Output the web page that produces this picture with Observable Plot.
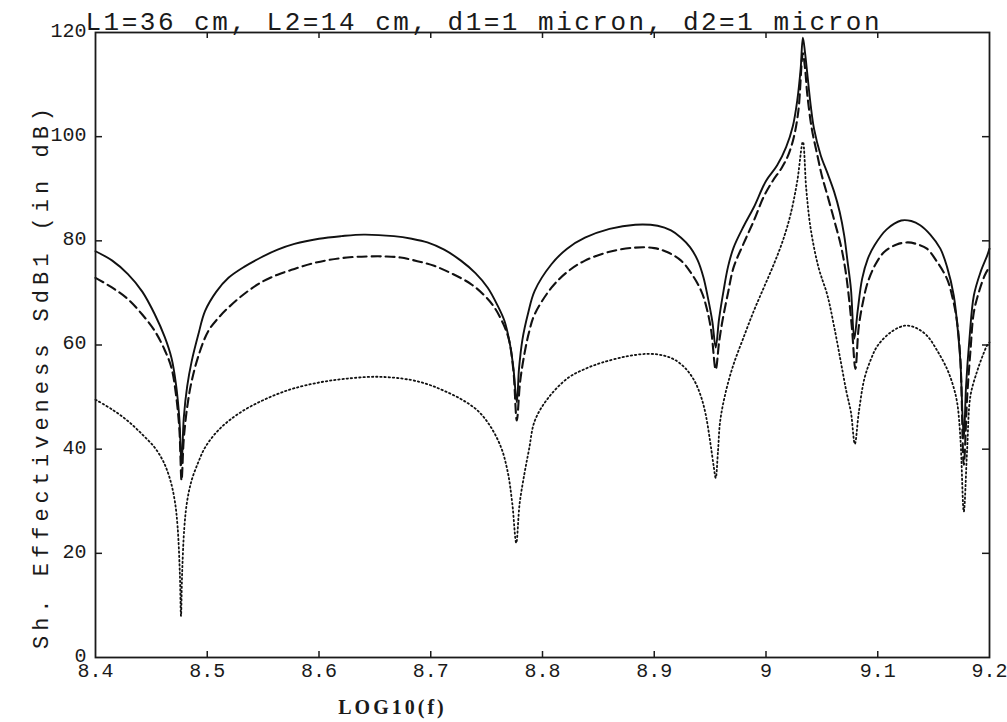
<!DOCTYPE html>
<html>
<head>
<meta charset="utf-8">
<script src="https://cdn.jsdelivr.net/npm/d3@7"></script>
<script src="https://cdn.jsdelivr.net/npm/@observablehq/plot@0.6"></script>
<style>
  html, body { margin: 0; padding: 0; background: #fff; }
  #chart svg { display: block; }
</style>
</head>
<body>
<div id="chart"></div>
<script>
const titleText = "L1=36 cm, L2=14 cm, d1=1 micron, d2=1 micron";
const xLabel = "LOG10(f)";
const yLabel = "Sh. Effectiveness SdB1 (in dB)";
const xTicks = [8.4, 8.5, 8.6, 8.7, 8.8, 8.9, 9.0, 9.1, 9.2];
const yTicks = [0, 20, 40, 60, 80, 100, 120];
const xInnerTicks = [8.5, 8.6, 8.7, 8.8, 8.9, 9.0, 9.1];
const yInnerTicks = [20, 40, 60, 80, 100];

// Solid curve
const solidLogF = [8.400,8.415,8.429,8.442,8.453,8.462,8.468,8.472,8.475,8.477,8.479,8.482,8.486,8.492,8.498,8.508,8.519,8.533,8.548,8.563,8.578,8.600,8.620,8.640,8.667,8.683,8.697,8.712,8.727,8.740,8.751,8.760,8.766,8.771,8.774,8.777,8.779,8.782,8.787,8.793,8.808,8.822,8.838,8.860,8.883,8.903,8.915,8.924,8.932,8.939,8.944,8.948,8.952,8.955,8.958,8.962,8.966,8.971,8.980,8.989,9.000,9.010,9.018,9.024,9.028,9.031,9.033,9.035,9.037,9.040,9.043,9.049,9.055,9.061,9.066,9.070,9.073,9.076,9.079,9.082,9.086,9.091,9.097,9.108,9.121,9.130,9.138,9.147,9.156,9.162,9.168,9.172,9.174,9.177,9.179,9.182,9.186,9.192,9.198,9.200];
const solidDB   = [78.0,76.2,73.6,70.2,65.9,61.5,57.5,52.5,46.0,37.0,46.0,52.0,56.8,62.0,66.5,70.2,72.9,75.0,76.8,78.3,79.4,80.4,80.9,81.2,80.9,80.4,79.7,78.3,76.2,73.8,71.0,67.5,64.6,60.0,55.5,49.0,55.5,61.0,66.0,70.4,75.5,78.5,80.6,82.3,83.1,82.9,82.0,80.6,78.8,76.2,73.0,69.1,64.5,59.5,65.0,70.4,75.0,78.7,82.8,86.4,91.5,94.5,98.0,102.0,107.0,113.0,119.0,116.0,112.0,106.0,101.5,96.4,93.0,89.4,85.5,81.0,76.0,70.8,61.2,66.5,72.7,76.5,79.1,82.2,83.9,83.8,83.0,81.2,78.5,75.0,69.5,62.0,56.7,42.0,52.0,61.0,69.5,74.0,77.2,78.5];

// Dashed curve
const dashedLogF = [8.400,8.415,8.429,8.442,8.453,8.462,8.468,8.472,8.475,8.477,8.479,8.482,8.486,8.493,8.501,8.510,8.519,8.533,8.548,8.563,8.578,8.593,8.608,8.625,8.644,8.660,8.673,8.688,8.703,8.720,8.736,8.748,8.757,8.765,8.770,8.774,8.777,8.780,8.784,8.788,8.793,8.808,8.822,8.838,8.860,8.883,8.900,8.912,8.924,8.933,8.942,8.947,8.951,8.955,8.958,8.961,8.966,8.971,8.980,8.989,8.998,9.006,9.014,9.020,9.025,9.029,9.033,9.035,9.037,9.041,9.046,9.050,9.055,9.061,9.067,9.071,9.074,9.077,9.080,9.083,9.087,9.091,9.098,9.106,9.117,9.127,9.136,9.144,9.153,9.162,9.167,9.171,9.174,9.177,9.180,9.183,9.186,9.191,9.196,9.200];
const dashedDB   = [72.9,71.0,68.8,65.8,62.7,59.0,55.6,50.5,44.0,34.0,42.0,48.0,53.0,58.5,62.7,65.2,67.2,69.8,72.0,73.5,74.6,75.6,76.3,76.8,77.0,77.0,76.8,76.1,75.2,73.6,71.7,69.5,67.2,64.0,61.0,55.0,45.5,53.0,58.5,62.5,65.9,71.0,74.0,76.2,77.9,78.7,78.6,77.8,76.2,73.8,70.4,67.0,62.7,55.3,60.5,64.6,70.0,74.9,79.5,83.8,88.5,91.5,94.0,96.5,100.0,105.0,116.0,113.0,108.0,101.5,96.4,92.5,88.7,84.0,79.1,74.5,69.5,63.0,55.4,63.5,68.5,72.0,75.5,77.9,79.3,79.7,79.3,78.5,76.0,72.7,69.0,64.4,57.0,37.0,50.0,59.0,66.3,70.5,73.5,75.0];

// Dotted curve
const dottedLogF = [8.400,8.415,8.429,8.442,8.453,8.461,8.467,8.471,8.4735,8.4755,8.4765,8.4775,8.4795,8.482,8.486,8.492,8.498,8.508,8.519,8.533,8.548,8.563,8.578,8.600,8.623,8.653,8.682,8.698,8.712,8.728,8.742,8.753,8.763,8.769,8.773,8.7765,8.7795,8.784,8.788,8.793,8.805,8.823,8.838,8.853,8.875,8.894,8.908,8.918,8.928,8.936,8.942,8.946,8.950,8.953,8.955,8.957,8.959,8.964,8.971,8.980,8.989,8.998,9.007,9.015,9.022,9.028,9.033,9.036,9.040,9.047,9.055,9.061,9.067,9.072,9.076,9.0795,9.083,9.088,9.094,9.100,9.112,9.124,9.134,9.144,9.153,9.162,9.167,9.171,9.174,9.177,9.180,9.183,9.189,9.194,9.198,9.200];
const dottedDB   = [49.5,47.6,45.4,42.8,40.3,37.5,34.0,30.0,25.0,16.0,8.0,16.0,25.0,30.0,34.0,37.5,40.3,43.2,45.4,47.5,49.2,50.6,51.7,52.8,53.5,53.9,53.3,52.4,51.2,49.5,47.4,44.5,40.3,35.5,29.5,22.0,29.5,35.5,40.0,45.4,49.8,53.7,55.4,56.6,57.8,58.3,58.0,57.2,55.5,53.1,50.0,46.7,41.5,37.0,34.5,39.5,45.4,51.0,56.3,61.5,66.5,71.0,75.5,80.0,85.1,91.5,99.0,90.0,82.3,74.9,69.5,63.5,56.7,51.0,47.1,41.0,47.0,53.5,57.3,59.9,62.5,63.7,63.3,61.8,59.0,55.4,52.5,49.0,42.0,28.0,40.0,50.3,55.0,58.0,60.0,60.5];

const toRows = (xs, ys) => xs.map((x, i) => ({x, y: ys[i]}));
const solid = toRows(solidLogF, solidDB);
const dashed = toRows(dashedLogF, dashedDB);
const dotted = toRows(dottedLogF, dottedDB);

const W = 1007, H = 722;
const mL = 95, mR = 18, mT = 32, mB = 65;
const plotW = W - mL - mR, plotH = H - mT - mB;
const mono = "'Liberation Mono', 'DejaVu Sans Mono', monospace";
const serif = "'Liberation Serif', 'DejaVu Serif', serif";
const ink = "#1a1a1a";

const chart = Plot.plot({
  width: W,
  height: H,
  marginLeft: mL,
  marginRight: mR,
  marginTop: mT,
  marginBottom: mB,
  style: {background: "#fff", color: ink, fontFamily: mono},
  x: {domain: [8.4, 9.2], axis: null},
  y: {domain: [0, 120], axis: null},
  marks: [
    Plot.line(dotted, {x: "x", y: "y", stroke: "#111", strokeWidth: 1.8, strokeDasharray: "1.4,2.8", curve: "catmull-rom"}),
    Plot.line(dashed, {x: "x", y: "y", stroke: "#111", strokeWidth: 2.1, strokeDasharray: "9,5", curve: "catmull-rom"}),
    Plot.line(solid, {x: "x", y: "y", stroke: "#111", strokeWidth: 1.9, curve: "catmull-rom"}),
    // inward ticks
    Plot.tickX(xInnerTicks, {x: d => d, insetTop: plotH - 6, stroke: ink, strokeWidth: 1.5}),
    Plot.tickX(xInnerTicks, {x: d => d, insetBottom: plotH - 6, stroke: ink, strokeWidth: 1.5}),
    Plot.tickY(yInnerTicks, {y: d => d, insetRight: plotW - 7, stroke: ink, strokeWidth: 1.5}),
    Plot.tickY(yInnerTicks, {y: d => d, insetLeft: plotW - 7, stroke: ink, strokeWidth: 1.5}),
    Plot.frame({stroke: ink, strokeWidth: 1.8}),
    Plot.text(xTicks, {x: d => d, frameAnchor: "bottom", lineAnchor: "top", dy: 5, text: d => d3.format("")(d), fontSize: 20, fontFamily: mono, fill: ink}),
    Plot.text(yTicks, {y: d => d, frameAnchor: "left", textAnchor: "end", lineAnchor: "middle", dx: -9, dy: -2, text: d => String(d), fontSize: 20, fontFamily: mono, fill: ink}),
    Plot.text([titleText], {frameAnchor: "top-left", textAnchor: "start", lineAnchor: "bottom", dx: -10, dy: -3, fontSize: 26, fontFamily: mono, fill: ink}),
    Plot.text([yLabel], {frameAnchor: "left", rotate: -90, textAnchor: "middle", lineAnchor: "middle", dx: -55, dy: 31, fontSize: 22, fontFamily: mono, fill: ink}),
    Plot.text([xLabel], {frameAnchor: "bottom", textAnchor: "middle", lineAnchor: "middle", dx: -150, dy: 50, fontSize: 20, fontFamily: serif, fontWeight: "bold", fill: ink})
  ]
});

document.getElementById("chart").appendChild(chart);
const svg = d3.select(chart);
const spacing = {[titleText]: "2.5px", [yLabel]: "5px", [xLabel]: "3px"};
svg.selectAll("text").each(function () {
  const t = this.textContent;
  if (spacing[t]) d3.select(this).style("letter-spacing", spacing[t]);
});
</script>
</body>
</html>
